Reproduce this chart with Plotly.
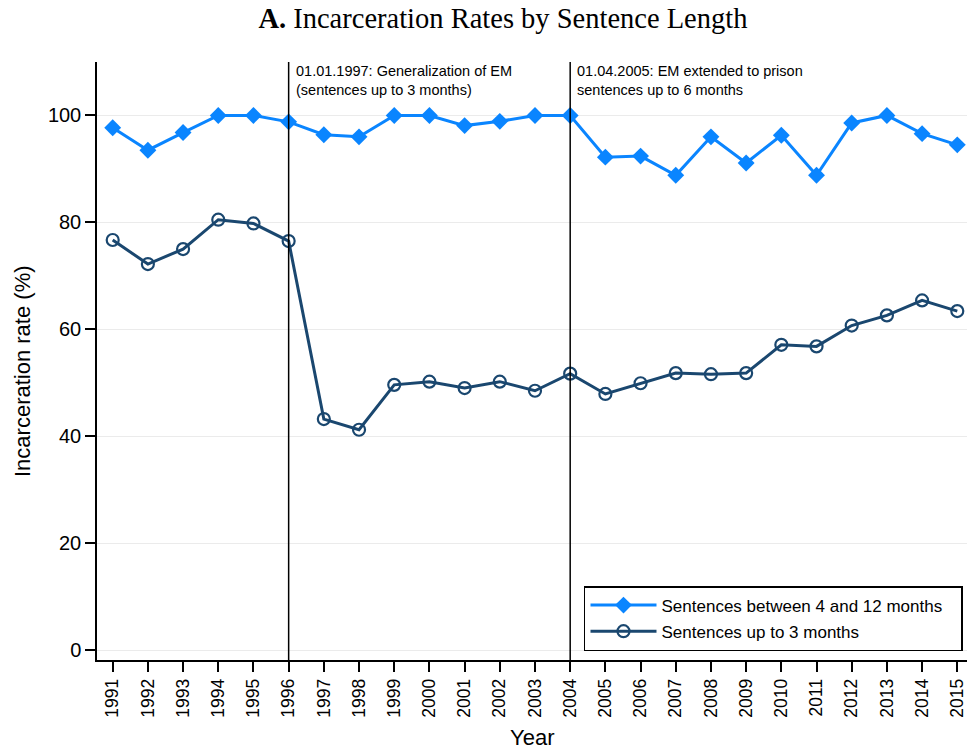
import plotly.graph_objects as go

years = list(range(1991, 2016))
rate_4_12 = [97.7, 93.5, 96.8, 100.0, 100.0, 98.8, 96.4, 96.0, 100.0, 100.0,
             98.1, 98.9, 100.0, 100.0, 92.2, 92.4, 88.8, 96.0, 91.1, 96.3,
             88.8, 98.6, 100.0, 96.6, 94.5]
rate_0_3 = [76.7, 72.2, 75.0, 80.5, 79.8, 76.5, 43.2, 41.2, 49.6, 50.2,
            49.0, 50.2, 48.5, 51.7, 47.9, 49.9, 51.8, 51.6, 51.8, 57.1,
            56.8, 60.7, 62.6, 65.4, 63.4]
reform_years = [1996, 2004]
reform_texts = ["01.01.1997: Generalization of EM<br>(sentences up to 3 months)",
                "01.04.2005: EM extended to prison<br>sentences up to 6 months"]
y_ticks = [0, 20, 40, 60, 80, 100]

LIGHT = "#0a85ff"
NAVY = "#1a476f"

fig = go.Figure()
fig.add_trace(go.Scatter(
    x=years, y=rate_4_12, mode="lines+markers",
    name="Sentences between 4 and 12 months&nbsp;&nbsp;&nbsp;", legendgroup="a",
    line=dict(color=LIGHT, width=3),
    marker=dict(symbol="diamond", size=13, color=LIGHT),
))
fig.add_trace(go.Scatter(
    x=years, y=rate_0_3, mode="lines+markers",
    name="Sentences up to 3 months", legendgroup="b",
    line=dict(color=NAVY, width=3),
    marker=dict(symbol="circle-open", size=12, color=NAVY, line=dict(width=2.2, color=NAVY)),
))

for yr, txt in zip(reform_years, reform_texts):
    fig.add_shape(type="line", xref="x", yref="paper", x0=yr, x1=yr, y0=0, y1=1,
                  line=dict(color="black", width=1.5))
    fig.add_annotation(x=yr, y=1, xref="x", yref="paper", text=txt, showarrow=False,
                       xanchor="left", yanchor="top", align="left", xshift=5, yshift=1,
                       font=dict(family="Liberation Sans, Arial, sans-serif", size=14.5, color="black"))

# axis titles
fig.add_annotation(x=0.5, y=0, xref="paper", yref="paper", text="Year", showarrow=False,
                   xanchor="center", yanchor="middle", yshift=-77, xshift=0,
                   font=dict(size=22, color="black"))
fig.add_annotation(x=0, y=0.5, xref="paper", yref="paper", text="Incarceration rate (%)",
                   showarrow=False, textangle=-90, xanchor="center", yanchor="middle",
                   xshift=-75, yshift=-10, font=dict(size=22, color="black"))

fig.update_layout(
    width=969, height=751,
    margin=dict(l=97, r=2, t=62, b=91),
    paper_bgcolor="white", plot_bgcolor="white",
    font=dict(family="Liberation Sans, Arial, sans-serif", color="black"),
    title=dict(text="<b>A.</b> Incarceration Rates by Sentence Length",
               x=0.519, xref="container", xanchor="center", y=0.976, yanchor="middle",
               font=dict(family="Liberation Serif, DejaVu Serif, serif", size=28.5, color="black")),
    showlegend=True,
    legend=dict(x=0.9954, xanchor="right", y=0.015, yanchor="bottom",
                bordercolor="black", borderwidth=1.5, bgcolor="white",
                font=dict(size=17, color="black"), tracegroupgap=1,
                traceorder="grouped", itemwidth=66),
)
fig.update_xaxes(
    range=[1990.554, 2015.276], tickmode="array", tickvals=years,
    ticktext=[str(y) for y in years], tickangle=-90,
    ticks="outside", ticklen=10, tickwidth=1.5, tickcolor="black",
    showline=True, linecolor="black", linewidth=1.5, showgrid=False, zeroline=False,
    tickfont=dict(size=17.5),
)
fig.update_yaxes(
    range=[-1.87, 110], tickmode="array", tickvals=y_ticks,
    ticks="outside", ticklen=10, tickwidth=1.5, tickcolor="black",
    showline=True, linecolor="black", linewidth=1.5,
    showgrid=True, gridcolor="#ebebeb", gridwidth=1, zeroline=False,
    tickfont=dict(size=20),
)

fig.write_html("out.html", config={"displayModeBar": False},
               post_script="document.body.style.margin='0';document.body.style.padding='0';")
